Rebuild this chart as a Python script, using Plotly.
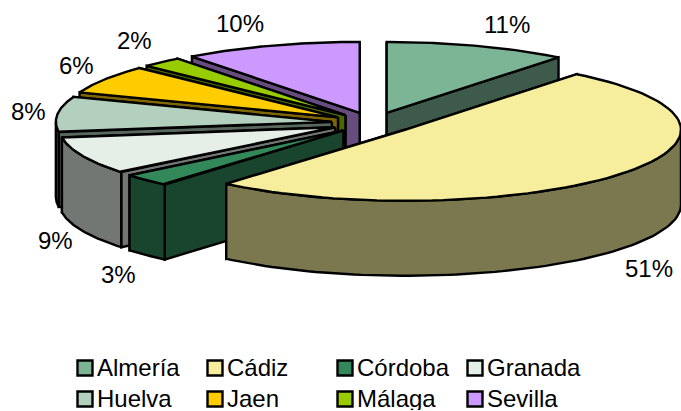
import numpy as np
import plotly.graph_objects as go

# values (labels are the rounded percentages)
provinces = ["Almería", "Cádiz", "Córdoba", "Granada", "Huelva", "Jaen", "Málaga", "Sevilla"]
shares = [10.7, 50.51, 2.9, 8.6, 8.0, 6.49, 2.4, 10.4]
top_colors = ["#7CB596", "#F6EE9C", "#33885A", "#E6EEE8", "#B2D0BD", "#FFCC00", "#99CC00", "#CC99FF"]

# label placement, pixels from top left
label_x = [507, 649, 118, 55, 28, 76, 134, 240]
label_y = [24, 268, 274, 240, 111, 65, 40, 23]

# legend layout
legend_col = [85, 215, 345, 475]
legend_row = [368, 399]

# pie geometry, pixels
CX, CY = 373, 123
RX, RY = 276, 71
EXPLODE = 0.15
DEPTH = 75
FONT = "Liberation Sans, Arial, sans-serif"

# painter's order, back to front
DRAW_ORDER = ["Almería", "Sevilla", "Málaga", "Jaen", "Huelva", "Granada", "Córdoba", "Cádiz"]

fig = go.Figure()


def shaded(hex_color):
    r, g, b = (int(hex_color[i:i + 2], 16) // 2 for i in (1, 3, 5))
    return f"#{r:02X}{g:02X}{b:02X}"


def face(xs, ys, color, name):
    fig.add_trace(
        go.Scatter(
            x=xs,
            y=ys,
            mode="lines",
            fill="toself",
            fillcolor=color,
            line=dict(color="black", width=2.4),
            name=name,
            showlegend=False,
            hoverinfo="name",
        )
    )


edges = np.cumsum([0] + shares) / sum(shares) * 2 * np.pi

for name in DRAW_ORDER:
    i = provinces.index(name)
    t0, t1 = edges[i], edges[i + 1]
    mid = (t0 + t1) / 2
    ox = CX + EXPLODE * RX * np.sin(mid)
    oy = CY - EXPLODE * RY * np.cos(mid)
    top = top_colors[i]
    side = shaded(top)

    # radial walls, the one nearer the viewer last
    for t in sorted([t0, t1], key=lambda a: -np.cos(a)):
        ex = ox + RX * np.sin(t)
        ey = oy - RY * np.cos(t)
        face([ox, ex, ex, ox, ox], [oy, ey, ey + DEPTH, oy + DEPTH, oy], side, name)

    # rim wall, only the part that faces the viewer
    a0, a1 = max(t0, np.pi / 2), min(t1, 3 * np.pi / 2)
    if a1 > a0:
        ts = np.linspace(a0, a1, 80)
        rim_x = ox + RX * np.sin(ts)
        rim_y = oy - RY * np.cos(ts)
        face(
            list(rim_x) + list(rim_x[::-1]) + [rim_x[0]],
            list(rim_y) + list(rim_y[::-1] + DEPTH) + [rim_y[0]],
            side,
            name,
        )

    ts = np.linspace(t0, t1, 80)
    face(
        [ox] + list(ox + RX * np.sin(ts)) + [ox],
        [oy] + list(oy - RY * np.cos(ts)) + [oy],
        top,
        name,
    )

# percentage labels
for share, x, y in zip(shares, label_x, label_y):
    fig.add_annotation(
        x=x, y=y, text=f"{share:.0f}%", showarrow=False, font=dict(family=FONT, size=24, color="black")
    )

# legend as swatches and text, four columns by two rows
for i, name in enumerate(provinces):
    x = legend_col[i % 4]
    y = legend_row[i // 4]
    fig.add_trace(
        go.Scatter(
            x=[x],
            y=[y],
            mode="markers",
            marker=dict(symbol="square", size=15, color=top_colors[i], line=dict(color="black", width=2.4)),
            showlegend=False,
            hoverinfo="skip",
        )
    )
    # bottom row sits tight against the page edge, a fixed box height keeps it inside
    fig.add_annotation(
        x=x + 10.5,
        y=y,
        yshift=1,
        height=24,
        text=name,
        xanchor="left",
        showarrow=False,
        borderpad=0,
        font=dict(family=FONT, size=24, color="black"),
    )

fig.update_xaxes(range=[0, 681], visible=False, fixedrange=True)
fig.update_yaxes(range=[411, 0], visible=False, fixedrange=True)
fig.update_layout(
    width=681,
    height=411,
    margin=dict(l=0, r=0, t=0, b=0),
    paper_bgcolor="white",
    plot_bgcolor="white",
    showlegend=False,
)
fig.write_html("out.html", config={"displayModeBar": False}, post_script="document.body.style.margin='0';")
